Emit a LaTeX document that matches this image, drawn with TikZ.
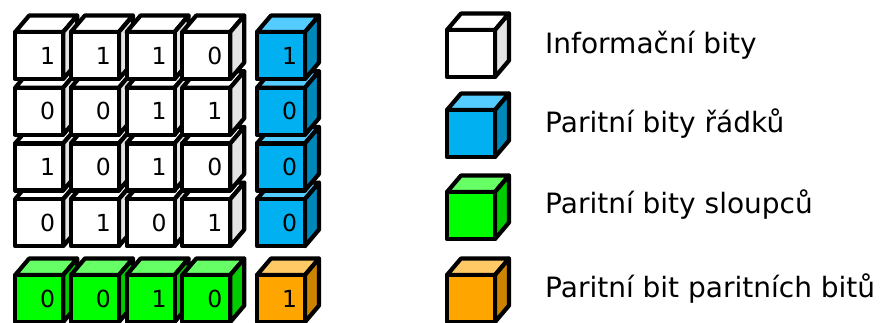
\documentclass[tikz,border=0pt]{standalone}
\usepackage{fontspec}
\setmainfont{DejaVu Sans}
\usepackage{tikz}
\definecolor{WTop}{RGB}{255,255,255}
\definecolor{WFront}{RGB}{255,255,255}
\definecolor{WSide}{RGB}{228,228,228}
\definecolor{BTop}{RGB}{85,204,255}
\definecolor{BFront}{RGB}{0,176,240}
\definecolor{BSide}{RGB}{0,136,187}
\definecolor{GTop}{RGB}{102,255,102}
\definecolor{GFront}{RGB}{0,255,0}
\definecolor{GSide}{RGB}{0,204,0}
\definecolor{OTop}{RGB}{255,201,102}
\definecolor{OFront}{RGB}{255,165,0}
\definecolor{OSide}{RGB}{204,132,0}
%% cube size (front face) and depth of top/side faces
\newcommand{\cw}{48}
\newcommand{\ch}{47}
\newcommand{\cubeshape}[3]{%
  \begin{scope}[shift={(#1,#2)}]
    \filldraw[cubeline, fill=#3Top] (0,0) -- (14,-16.5) -- (\cw+14,-16.5) -- (\cw,0) -- cycle;
    \filldraw[cubeline, fill=#3Side] (\cw,0) -- (\cw+14,-16.5) -- (\cw+14,\ch-16.5) -- (\cw,\ch) -- cycle;
    \filldraw[cubeline, fill=#3Front] (0,0) rectangle (\cw,\ch);
  \end{scope}}
\newcommand{\bitcube}[5]{%
  \cubeshape{#1}{#2}{#3}
  \node[bitlabel] (#5) at ($(#1,#2)+(\cw/2+8.5,\ch/2)$) {#4};}
\usetikzlibrary{calc}

\begin{document}
\begin{tikzpicture}[x=1pt, y=-1pt,
    cubeline/.style={draw=black, line width=4.2pt, line join=round},
    bitlabel/.style={inner sep=0pt, font=\fontsize{23.5}{28}\selectfont},
    legendtext/.style={inner sep=0pt, anchor=base west, font=\fontsize{28}{34}\selectfont}]
    \useasboundingbox (0,0) rectangle (885,322);
    %% parity bit of parity bits, and column parity (bottom row)
    \bitcube{15.2}{275}{G}{0}{c1}
    \bitcube{70.9}{275}{G}{0}{c2}
    \bitcube{126.6}{275}{G}{1}{c3}
    \bitcube{182.3}{275}{G}{0}{c4}
    \bitcube{257}{275}{O}{1}{pp}
    %% row 4
    \bitcube{15.2}{199.1}{W}{0}{d41}
    \bitcube{70.9}{199.1}{W}{1}{d42}
    \bitcube{126.6}{199.1}{W}{0}{d43}
    \bitcube{182.3}{199.1}{W}{1}{d44}
    \bitcube{257}{199.1}{B}{0}{r4}
    %% row 3
    \bitcube{15.2}{143.4}{W}{1}{d31}
    \bitcube{70.9}{143.4}{W}{0}{d32}
    \bitcube{126.6}{143.4}{W}{1}{d33}
    \bitcube{182.3}{143.4}{W}{0}{d34}
    \bitcube{257}{143.4}{B}{0}{r3}
    %% row 2
    \bitcube{15.2}{87.7}{W}{0}{d21}
    \bitcube{70.9}{87.7}{W}{0}{d22}
    \bitcube{126.6}{87.7}{W}{1}{d23}
    \bitcube{182.3}{87.7}{W}{1}{d24}
    \bitcube{257}{87.7}{B}{0}{r2}
    %% row 1
    \bitcube{15.2}{32}{W}{1}{d11}
    \bitcube{70.9}{32}{W}{1}{d12}
    \bitcube{126.6}{32}{W}{1}{d13}
    \bitcube{182.3}{32}{W}{0}{d14}
    \bitcube{257}{32}{B}{1}{r1}
    %% legend
    \cubeshape{447}{30}{W}
    \cubeshape{447}{110}{B}
    \cubeshape{447}{192}{G}
    \cubeshape{447}{275}{O}
    \node[legendtext] (infotext) at (545,53) {Informační bity};
    \node[legendtext] (rowtext) at (545,132) {Paritní bity řádků};
    \node[legendtext] (coltext) at (545,213) {Paritní bity sloupců};
    \node[legendtext] (pptext) at (545,297) {Paritní bit paritních bitů};
\end{tikzpicture}
\end{document}
